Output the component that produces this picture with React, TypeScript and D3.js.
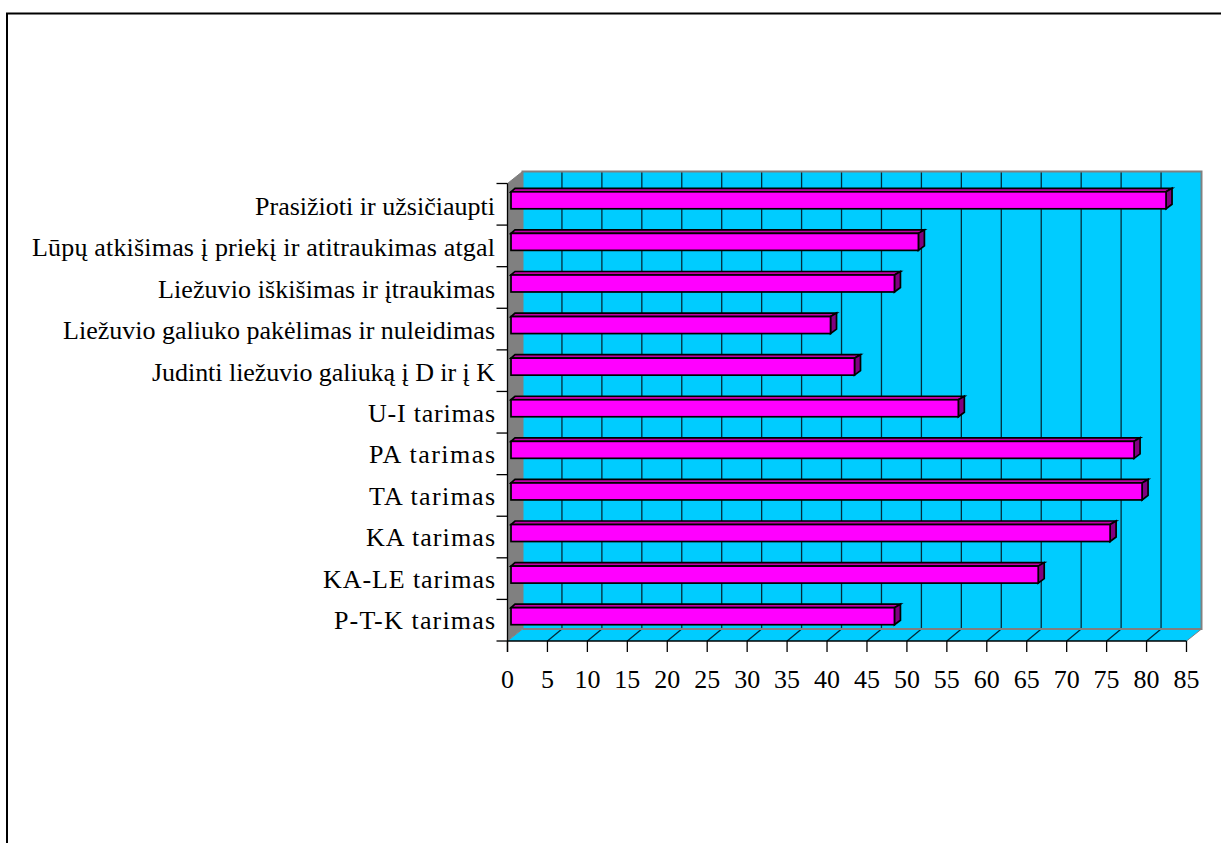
import React from "react";
import * as d3 from "d3";

const categories = [
  "Prasižioti ir užsičiaupti",
  "Lūpų atkišimas į priekį ir atitraukimas atgal",
  "Liežuvio iškišimas ir įtraukimas",
  "Liežuvio galiuko pakėlimas ir nuleidimas",
  "Judinti liežuvio galiuką į D ir į K",
  "U-I tarimas",
  "PA tarimas",
  "TA tarimas",
  "KA tarimas",
  "KA-LE tarimas",
  "P-T-K tarimas",
];
const values = [82, 51, 48, 40, 43, 56, 78, 79, 75, 66, 48];
const xTicks = d3.range(0, 90, 5);

// Set widths of the category labels, in px
const labelWidths = [240, 463, 337, 432, 343, 127, 126, 126, 129, 172, 161];

const FONT = "'Liberation Serif', 'Times New Roman', serif";
const W = 1221;
const H = 843;

// Front plane of the 3D box and the offset to its back wall
const x = d3.scaleLinear().domain([0, 85]).range([507.5, 1186.5]);
const y = d3.scaleBand<string>().domain(categories).range([183.5, 641]);
const labelY = d3.scalePoint<string>().domain(categories).range([215, 629]);
const DX = 15;
const DY = -12;
const GRID_DX = 14.5;

// Bars sit part-way into the box depth
const BAR_DX = 3.5;
const BAR_W = 4;
const BAR_H = 3.5;
const BAR_THICK = 17;
const BAR_LIFT = 4;

const pts = (p: [number, number][]) => p.map((q) => q.join(",")).join(" ");

export default function App() {
  const [x0, x1] = x.range();
  const yTop = 183.5;
  const yBot = 641;

  return (
    <svg
      width={W}
      height={H}
      style={{ position: "absolute", left: 0, top: 0, background: "#fff" }}
    >
      {/* Outer frame, open on the right and at the bottom */}
      <path d={`M7 ${H}V13.5H${W}`} fill="none" stroke="#000" strokeWidth={2} />

      {/* Back wall */}
      <rect x={x0 + DX} y={yTop + DY} width={x1 - x0} height={yBot - yTop} fill="#00ccff" />
      {/* Floor */}
      <polygon
        points={pts([[x0, yBot], [x1, yBot], [x1 + DX, yBot + DY], [x0 + DX, yBot + DY]])}
        fill="#00ccff"
      />
      {/* Side wall */}
      <polygon
        points={pts([[x0, yTop], [x0 + DX, yTop + DY], [x0 + DX, yBot + DY], [x0, yBot]])}
        fill="#808080"
      />

      {/* Vertical gridlines with their floor segments */}
      {xTicks.slice(1, -1).map((t) => (
        <g key={t} stroke="#002c3a" strokeWidth={1.3}>
          <line x1={x(t) + GRID_DX} x2={x(t) + GRID_DX} y1={yTop + DY} y2={yBot + DY} />
          <line x1={x(t)} x2={x(t) + GRID_DX} y1={yBot} y2={yBot + DY} />
        </g>
      ))}

      {/* Wall edges */}
      <path
        d={`M${x0 + DX} ${yBot + DY}V${yTop + DY}H${x1 + DX}V${yBot + DY}H${x0 + DX}`}
        fill="none"
        stroke="#808080"
        strokeWidth={2}
      />
      <path
        d={`M${x0} ${yTop}L${x0 + DX} ${yTop + DY}M${x0} ${yBot}L${x0 + DX} ${yBot + DY}M${x1} ${yBot}L${x1 + DX} ${yBot + DY}`}
        fill="none"
        stroke="#808080"
        strokeWidth={1}
      />

      {/* Bars, bottom-most first */}
      {categories.map((c, i) => {
        const yc = y(c)! + y.bandwidth() / 2 - BAR_LIFT;
        const left = x0 + BAR_DX;
        const right = left + (x(values[i]) - x0);
        const t = yc - BAR_THICK / 2;
        const b = yc + BAR_THICK / 2;
        return (
          <g key={c} stroke="#000" strokeWidth={1.7} strokeLinejoin="miter">
            <polygon
              points={pts([[left, t], [left + BAR_W, t - BAR_H], [right + BAR_W + 2, t - BAR_H], [right, t]])}
              fill="#c000a8"
            />
            <polygon
              points={pts([[right, t], [right + BAR_W + 2, t - BAR_H], [right + BAR_W + 2, b - BAR_H - 1], [right, b]])}
              fill="#800080"
            />
            <rect x={left} y={t} width={right - left} height={b - t} fill="#ff00ff" />
          </g>
        );
      })}

      {/* Axes */}
      <g stroke="#000" strokeWidth={1.3}>
        <line x1={x0} x2={x0} y1={yTop} y2={yBot + 11} />
        <line x1={x0} x2={x1} y1={yBot} y2={yBot} />
        {categories.map((c) => (
          <line key={c} x1={x0 - 11} x2={x0} y1={y(c)!} y2={y(c)!} />
        ))}
        <line x1={x0 - 11} x2={x0} y1={yBot} y2={yBot} />
        {xTicks.map((t) => (
          <line key={t} x1={x(t)} x2={x(t)} y1={yBot} y2={yBot + 11} />
        ))}
      </g>

      {/* Category labels */}
      <g fontFamily={FONT} fontSize={26} fill="#000" textAnchor="end">
        {categories.map((c, i) => (
          <text key={c} x={495} y={labelY(c)!} textLength={labelWidths[i]} lengthAdjust="spacing">
            {c}
          </text>
        ))}
      </g>

      {/* Value labels */}
      <g fontFamily={FONT} fontSize={26} fill="#000" textAnchor="middle">
        {xTicks.map((t) => (
          <text key={t} x={x(t)} y={688}>
            {t}
          </text>
        ))}
      </g>
    </svg>
  );
}
